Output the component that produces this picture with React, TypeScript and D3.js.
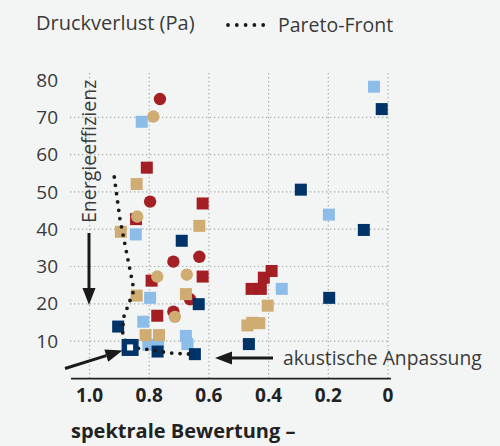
import React from "react";
import * as d3 from "d3";

const xTicks = [1.0, 0.8, 0.6, 0.4, 0.2, 0];
const xTickLabels = ["1.0", "0.8", "0.6", "0.4", "0.2", "0"];
const yTicks = [10, 20, 30, 40, 50, 60, 70, 80];
const yGrid = [10, 20, 30, 40, 50, 60, 70];

const redCircles: [number, number][] = [[0.764, 74.9], [0.797, 47.4], [0.719, 31.3], [0.632, 32.6], [0.663, 21.2], [0.719, 17.9]];
const tanCircles: [number, number][] = [[0.786, 70.2], [0.840, 43.4], [0.773, 27.3], [0.674, 27.8], [0.714, 16.5]];
const redSquares: [number, number][] = [[0.808, 56.5], [0.621, 46.9], [0.844, 42.7], [0.792, 26.2], [0.621, 27.3], [0.773, 16.8], [0.390, 28.8], [0.416, 27.0], [0.426, 24.0], [0.457, 24.0]];
const tanSquares: [number, number][] = [[0.842, 52.1], [0.895, 39.3], [0.632, 40.9], [0.842, 22.2], [0.677, 22.6], [0.812, 11.6], [0.767, 11.6], [0.403, 19.5], [0.471, 14.2], [0.455, 14.9], [0.431, 14.8]];
const lightBlueSquares: [number, number][] = [[0.825, 68.8], [0.845, 38.6], [0.797, 21.6], [0.820, 15.2], [0.803, 9.0], [0.770, 9.0], [0.677, 11.4], [0.672, 9.2], [0.047, 78.2], [0.198, 43.9], [0.356, 24.0]];
const navySquares: [number, number][] = [[0.691, 36.9], [0.634, 19.9], [0.904, 13.9], [0.772, 7.2], [0.647, 6.5], [0.021, 72.2], [0.292, 50.6], [0.081, 39.8], [0.197, 21.6], [0.466, 9.2]];
const highlighted: [number, number] = [0.864, 8.3];
const paretoFront: [number, number][] = [[0.917, 54.0], [0.898, 42.7], [0.851, 23.7], [0.887, 16.1], [0.889, 11.4], [0.864, 8.3], [0.817, 7.9], [0.730, 6.8], [0.657, 6.5]];

const C_RED = "#a31f24";
const C_TAN = "#cfad72";
const C_LB = "#8cbde9";
const C_NAVY = "#003469";
const FONT = "'Open Sans', 'Noto Sans', sans-serif";

function arrowHead(x1: number, y1: number, x2: number, y2: number, len = 17, w = 13) {
  const a = Math.atan2(y2 - y1, x2 - x1);
  const bx = x2 - len * Math.cos(a), by = y2 - len * Math.sin(a);
  const px = -Math.sin(a) * w / 2, py = Math.cos(a) * w / 2;
  return { pts: `${x2},${y2} ${bx + px},${by + py} ${bx - px},${by - py}`, bx, by };
}

function Arrow({ x1, y1, x2, y2 }: { x1: number; y1: number; x2: number; y2: number }) {
  const h = arrowHead(x1, y1, x2, y2);
  return (
    <g>
      <line x1={x1} y1={y1} x2={h.bx} y2={h.by} stroke="#1a1a1a" strokeWidth={3} />
      <polygon points={h.pts} fill="#1a1a1a" />
    </g>
  );
}

export default function App() {
  const W = 500, H = 446;
  const x = d3.scaleLinear().domain([1, 0]).range([89.5, 388]);
  const y = d3.scaleLinear().domain([0, 80]).range([378.4, 80]);
  const line = d3.line<[number, number]>().x(d => x(d[0])).y(d => y(d[1])).curve(d3.curveLinear);
  const sq = 12;
  const square = (d: [number, number], c: string, k: string) => (
    <rect key={k} x={x(d[0]) - sq / 2} y={y(d[1]) - sq / 2} width={sq} height={sq} fill={c} />
  );
  const circle = (d: [number, number], c: string, k: string) => (
    <circle key={k} cx={x(d[0])} cy={y(d[1])} r={6.2} fill={c} />
  );
  return (
    <svg width={W} height={H} style={{ position: "fixed", left: 0, top: 0 }} fontFamily={FONT}>
      <rect width={W} height={H} fill="#f3f5f5" />
      {/* grid */}
      {xTicks.map((t, i) => (
        <line key={"vx" + i} x1={x(t)} x2={x(t)} y1={73} y2={378} stroke="#a8a8a8" strokeWidth={1.2} strokeDasharray="1.3 2.7" />
      ))}
      {yGrid.map((t, i) => (
        <line key={"hy" + i} x1={70} x2={388} y1={y(t)} y2={y(t)} stroke="#a8a8a8" strokeWidth={1.2} strokeDasharray="1.3 2.7" />
      ))}
      <line x1={71} x2={391} y1={378.6} y2={378.6} stroke="#222" strokeWidth={1.6} />
      {/* y tick labels */}
      {yTicks.map((t, i) => (
        <text key={"yl" + i} x={58} y={y(t)} dy="0.35em" textAnchor="end" fontSize={19} fill="#3a3a3a">{t}</text>
      ))}
      {xTicks.map((t, i) => (
        <text key={"xl" + i} x={x(t)} y={402} textAnchor="middle" fontSize={19} fontWeight="bold" fill="#222">{xTickLabels[i]}</text>
      ))}
      <text x={71} y={438} fontSize={20} fontWeight="bold" fill="#222">spektrale Bewertung –</text>
      {/* legend */}
      <text x={36} y={29.5} fontSize={20} fill="#3a3a3a">Druckverlust (Pa)</text>
      <line x1={228} x2={263.5} y1={25} y2={25} stroke="#1a1a1a" strokeWidth={3.8} strokeLinecap="round" strokeDasharray="0 8.8" />
      <text x={278} y={31.5} fontSize={19.5} fill="#3a3a3a">Pareto-Front</text>
      {/* points */}
      {lightBlueSquares.map((d, i) => square(d, C_LB, "lb" + i))}
      {redSquares.map((d, i) => square(d, C_RED, "rs" + i))}
      {redCircles.map((d, i) => circle(d, C_RED, "rc" + i))}
      {tanSquares.map((d, i) => square(d, C_TAN, "ts" + i))}
      {tanCircles.map((d, i) => circle(d, C_TAN, "tc" + i))}
      {navySquares.map((d, i) => square(d, C_NAVY, "ns" + i))}
      {/* pareto front */}
      <path d={line(paretoFront) || ""} fill="none" stroke="#1a1a1a" strokeWidth={3.8} strokeLinecap="round" strokeDasharray="0 8.4" />
      {/* highlighted */}
      <rect x={x(highlighted[0]) - 8.5} y={y(highlighted[1]) - 8.5} width={17} height={17} fill={C_NAVY} />
      <rect x={x(highlighted[0]) - 3} y={y(highlighted[1]) - 3} width={6} height={6} fill="#ffffff" />
      {/* annotations */}
      <text transform="translate(96,223) rotate(-90)" fontSize={19.5} fill="#3a3a3a">Energieeffizienz</text>
      <Arrow x1={89} y1={233} x2={89} y2={305} />
      <Arrow x1={65} y1={368.5} x2={122.5} y2={350.5} />
      <Arrow x1={273} y1={358} x2={215} y2={358} />
      <text x={283} y={364.5} fontSize={19.3} fill="#3a3a3a">akustische Anpassung</text>
    </svg>
  );
}
